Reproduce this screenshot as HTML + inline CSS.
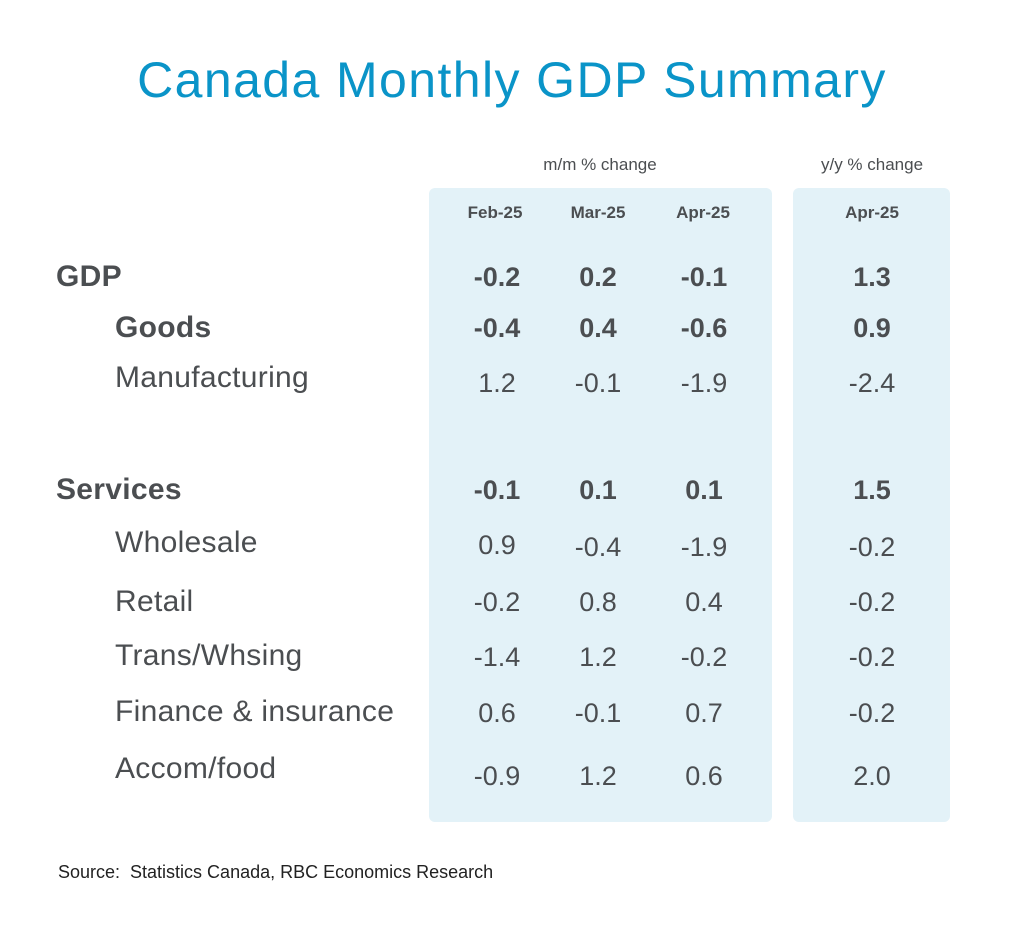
<!DOCTYPE html>
<html><head><meta charset="utf-8"><style>
body{margin:0;width:1024px;height:938px;background:#fff;position:relative;font-family:"Liberation Sans",sans-serif;color:#4b4e51;overflow:hidden}
.a{position:absolute;white-space:nowrap;line-height:40px;height:40px}
.c{transform:translateX(-50%)}
.p{position:absolute;background:#e3f2f8;border-radius:6px}
.b{font-weight:bold}
.l{font-size:30px;letter-spacing:0.3px}
</style></head><body>
<div class="a c" style="left:512px;top:52px;height:56px;line-height:56px;font-size:50px;color:#0a94c8;letter-spacing:1.4px">Canada Monthly GDP Summary</div>
<div class="p" style="left:429px;top:188px;width:343px;height:634px"></div>
<div class="p" style="left:793px;top:188px;width:157px;height:634px"></div>
<div class="a c" style="left:600px;top:145px;font-size:17px">m/m % change</div>
<div class="a c" style="left:872px;top:145px;font-size:17px">y/y % change</div>
<div class="a c b" style="left:495px;top:193px;font-size:17px">Feb-25</div>
<div class="a c b" style="left:598px;top:193px;font-size:17px">Mar-25</div>
<div class="a c b" style="left:703px;top:193px;font-size:17px">Apr-25</div>
<div class="a c b" style="left:872px;top:193px;font-size:17px">Apr-25</div>

<div class="a b l" style="left:56px;top:257px">GDP</div>
<div class="a b l" style="left:115px;top:308px">Goods</div>
<div class="a l" style="left:115px;top:358px">Manufacturing</div>
<div class="a b l" style="left:56px;top:470px">Services</div>
<div class="a l" style="left:115px;top:523px">Wholesale</div>
<div class="a l" style="left:115px;top:582px">Retail</div>
<div class="a l" style="left:115px;top:636px">Trans/Whsing</div>
<div class="a l" style="left:115px;top:692px">Finance &amp; insurance</div>
<div class="a l" style="left:115px;top:749px">Accom/food</div>

<div style="font-size:27px">
<div class="a c b" style="left:497px;top:257px">-0.2</div><div class="a c b" style="left:598px;top:257px">0.2</div><div class="a c b" style="left:704px;top:257px">-0.1</div><div class="a c b" style="left:872px;top:257px">1.3</div>
<div class="a c b" style="left:497px;top:308px">-0.4</div><div class="a c b" style="left:598px;top:308px">0.4</div><div class="a c b" style="left:704px;top:308px">-0.6</div><div class="a c b" style="left:872px;top:308px">0.9</div>
<div class="a c" style="left:497px;top:363px">1.2</div><div class="a c" style="left:598px;top:363px">-0.1</div><div class="a c" style="left:704px;top:363px">-1.9</div><div class="a c" style="left:872px;top:363px">-2.4</div>
<div class="a c b" style="left:497px;top:470px">-0.1</div><div class="a c b" style="left:598px;top:470px">0.1</div><div class="a c b" style="left:704px;top:470px">0.1</div><div class="a c b" style="left:872px;top:470px">1.5</div>
<div class="a c" style="left:497px;top:525px">0.9</div><div class="a c" style="left:598px;top:527px">-0.4</div><div class="a c" style="left:704px;top:527px">-1.9</div><div class="a c" style="left:872px;top:527px">-0.2</div>
<div class="a c" style="left:497px;top:582px">-0.2</div><div class="a c" style="left:598px;top:582px">0.8</div><div class="a c" style="left:704px;top:582px">0.4</div><div class="a c" style="left:872px;top:582px">-0.2</div>
<div class="a c" style="left:497px;top:637px">-1.4</div><div class="a c" style="left:598px;top:637px">1.2</div><div class="a c" style="left:704px;top:637px">-0.2</div><div class="a c" style="left:872px;top:637px">-0.2</div>
<div class="a c" style="left:497px;top:693px">0.6</div><div class="a c" style="left:598px;top:693px">-0.1</div><div class="a c" style="left:704px;top:693px">0.7</div><div class="a c" style="left:872px;top:693px">-0.2</div>
<div class="a c" style="left:497px;top:756px">-0.9</div><div class="a c" style="left:598px;top:756px">1.2</div><div class="a c" style="left:704px;top:756px">0.6</div><div class="a c" style="left:872px;top:756px">2.0</div>
</div>
<div class="a" style="left:58px;top:852px;font-size:18px;color:#222">Source:&nbsp; Statistics Canada, RBC Economics Research</div>
</body></html>
